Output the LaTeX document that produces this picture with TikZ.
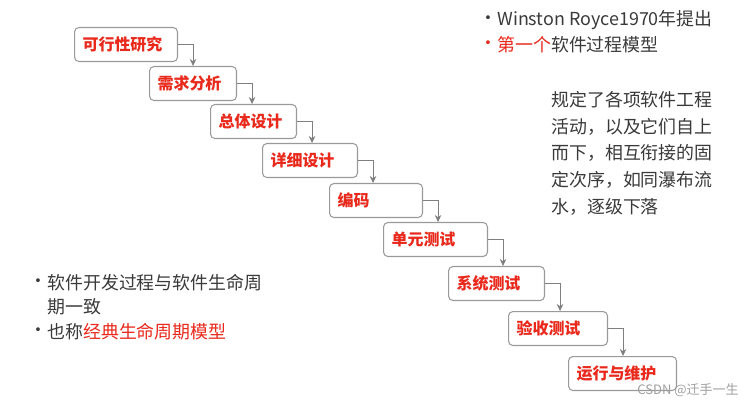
\documentclass[tikz,border=0pt]{standalone}
\usepackage{fontspec}
\setmainfont{Noto Sans CJK SC}
\usetikzlibrary{arrows.meta}
\definecolor{wfRed}{HTML}{E8291C}
\definecolor{wfInk}{HTML}{3A3A3A}
\definecolor{wfEdge}{HTML}{9A9A9A}
\definecolor{wfArrow}{HTML}{7F7F7F}
\definecolor{wfMark}{HTML}{A0A0A0}
\tikzset{
  wf box/.style={draw=wfEdge, line width=0.6pt, rounded corners=2.5pt,
    fill=white, anchor=north west, align=left, minimum height=0.68cm,
    inner xsep=0.16cm, inner ysep=0pt, text=wfRed,
    font=\fontsize{9.1pt}{11pt}\selectfont\bfseries},
  wf arrow/.style={-{Stealth[length=1.4mm,width=1.3mm]},
    draw=wfArrow, line width=0.5pt},
  wf text/.style={anchor=west, inner sep=0pt, text=wfInk,
    font=\fontsize{10.2pt}{12pt}\selectfont},
  wf mark/.style={anchor=west, inner sep=0pt, text=wfMark,
    font=\fontsize{7.4pt}{9pt}\selectfont}
}
\begin{document}
\begin{tikzpicture}[x=0.02cm,y=-0.02cm]
  \useasboundingbox[fill=white] (0,0) rectangle (747,405);
  % the nine stages
  \node[wf box, text width=1.74cm] (s1) at (74,27)  {可行性研究};
  \node[wf box, text width=1.42cm] (s2) at (149,66) {需求分析};
  \node[wf box, text width=1.40cm] (s3) at (210,104) {总体设计};
  \node[wf box, text width=1.58cm] (s4) at (262,143) {详细设计};
  \node[wf box, text width=1.54cm] (s5) at (329,183) {编码};
  \node[wf box, text width=1.76cm] (s6) at (383,222) {单元测试};
  \node[wf box, text width=1.60cm] (s7) at (448,266) {系统测试};
  \node[wf box, text width=1.66cm] (s8) at (508,311) {验收测试};
  \node[wf box, text width=1.84cm] (s9) at (568,356) {运行与维护};
  \foreach \a/\b in {1/2,2/3,3/4,4/5,5/6,6/7,7/8,8/9}
    \draw[wf arrow] (s\a.east) -- ++(15,0) coordinate (k\a) -- (k\a |- s\b.north);
  % notes on the right
  \node[wf text] (b1) at (479,20) {•};
  \node[wf text] (r1) at (497,20) {Winston Royce1970年提出};
  \node[wf text, text=wfRed] (b2) at (479,45) {•};
  \node[wf text] (r2) at (497,45) {\textcolor{wfRed}{第一个}软件过程模型};
  \node[wf text] (p1) at (551,100) {规定了各项软件工程};
  \node[wf text] (p2) at (551,127) {活动，以及它们自上};
  \node[wf text] (p3) at (551,153) {而下，相互衔接的固};
  \node[wf text] (p4) at (551,180) {定次序，如同瀑布流};
  \node[wf text] (p5) at (551,207) {水，逐级下落};
  % notes on the left
  \node[wf text] (b3) at (29,283) {•};
  \node[wf text] (l1) at (47,283) {软件开发过程与软件生命周};
  \node[wf text] (l2) at (47,307) {期一致};
  \node[wf text] (b4) at (29,332) {•};
  \node[wf text] (l3) at (47,332) {也称\textcolor{wfRed}{经典生命周期模型}};
  \node[wf mark] (wm) at (637,390) {CSDN @迁手一生};
\end{tikzpicture}
\end{document}
